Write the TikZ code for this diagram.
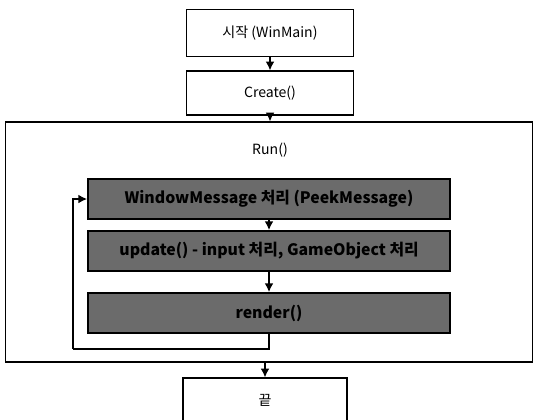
\documentclass[tikz,border=0pt]{standalone}
\usepackage{fontspec}
\setmainfont{Noto Sans CJK KR}
\usetikzlibrary{arrows.meta}
\tikzset{
  frame/.style={draw, line width=0.6pt, fill=white, font=\footnotesize},
  darkbox/.style={draw, line width=0.9pt, fill=black!58, font=\small\bfseries,
    minimum width=362*0.02cm, minimum height=40*0.02cm},
  flow/.style={-{Latex[length=5pt,width=5pt]}, line width=1pt},
}
\begin{document}
\begin{tikzpicture}[x=0.02cm, y=-0.02cm, >=Latex]
    \useasboundingbox (0,0) rectangle (533,419);
    \clip (0,0) rectangle (533,419);

    % main sequence
    \node[frame, minimum width=167*0.02cm, minimum height=47*0.02cm] (start) at (270,33) {시작 (WinMain)};
    \node[frame, minimum width=167*0.02cm, minimum height=44*0.02cm] (create) at (270,93) {Create()};
    \node[frame, minimum width=527*0.02cm, minimum height=240*0.02cm] (run) at (269,242) {};
    \node[font=\footnotesize] (runlabel) at (270,150) {Run()};
    \node[frame, minimum width=164*0.02cm, minimum height=44*0.02cm] (end) at (265,400) {끝};

    % game loop
    \node[darkbox] (msg) at (269,199) {WindowMessage 처리 (PeekMessage)};
    \node[darkbox] (update) at (269,251) {update() - input 처리, GameObject 처리};
    \node[darkbox] (render) at (269,313) {render()};
    \coordinate (loopturn) at (73,349);

    \draw[flow] (start) -- (create);
    \draw[flow] (create.south) -- (create.south |- run.north);
    \draw[flow] (msg) -- (update);
    \draw[flow] (update) -- (render);
    \draw[line width=1pt] (render.south) |- (loopturn);
    \draw[flow] (loopturn) |- (msg.west);
    \draw[flow] (end.north |- run.south) -- (end.north);
\end{tikzpicture}
\end{document}
